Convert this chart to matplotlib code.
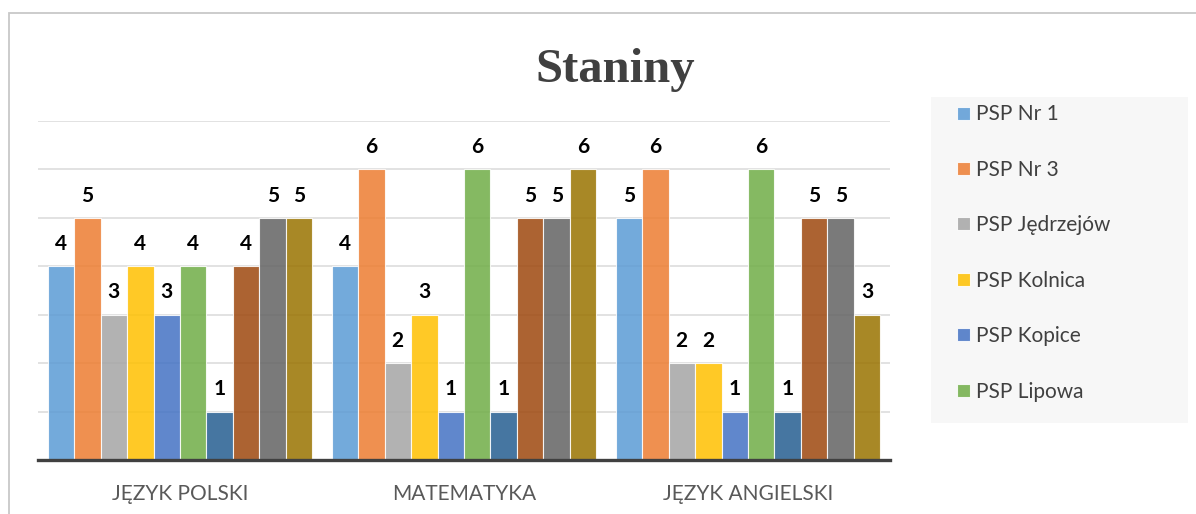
import numpy as np
import matplotlib
matplotlib.use("Agg")
import matplotlib.pyplot as plt
from matplotlib.patches import Rectangle

categories = ["JĘZYK POLSKI", "MATEMATYKA", "JĘZYK ANGIELSKI"]
# only the first six series are named in the (cut off) legend
series_names = ["PSP Nr 1", "PSP Nr 3", "PSP Jędrzejów", "PSP Kolnica",
                "PSP Kopice", "PSP Lipowa", None, None, None, None]
series_colors = ["#5B9BD5", "#ED7D31", "#A5A5A5", "#FFC000", "#4472C4",
                 "#70AD47", "#255E91", "#9E480E", "#636363", "#997300"]
values = [
    [4, 4, 5],
    [5, 6, 6],
    [3, 2, 2],
    [4, 3, 2],
    [3, 1, 1],
    [4, 6, 6],
    [1, 1, 1],
    [4, 5, 5],
    [5, 5, 5],
    [5, 6, 3],
]

W, H = 1196, 514
fig = plt.figure(figsize=(W / 100, H / 100), dpi=100)
fig.patch.set_facecolor("white")

# chart border (continues past right/bottom of the picture)
fig.add_artist(Rectangle((9 / W, -0.1), 1.2, (H - 13) / H + 0.1,
                         transform=fig.transFigure, fill=False,
                         edgecolor="#C8C8C8", linewidth=1.3))

ax = fig.add_axes([38 / W, (H - 460) / H, (890 - 38) / W, (460 - 121) / H])
x = np.arange(len(categories))
n = len(values)
bar_w = 0.933 / n

handles = []
for i, (vals, col) in enumerate(zip(values, series_colors)):
    pos = x - 0.933 / 2 + bar_w * (i + 0.5)
    bars = ax.bar(pos, vals, bar_w, color=col, alpha=0.85,
                  edgecolor="white", linewidth=0.8, zorder=2)
    handles.append(bars)
    for p, v in zip(pos, vals):
        ax.annotate(str(v), (p, v), xytext=(0, 16), textcoords="offset points",
                    ha="center", va="center", fontsize=15, fontweight="bold",
                    family="Lato", color="black")

ax.set_xlim(-0.5, 2.5)
ax.set_ylim(0, 7)
ax.set_yticks(range(1, 8))
ax.yaxis.grid(True, color="#E2E2E2", linewidth=1.4, zorder=0)
ax.set_axisbelow(True)
ax.tick_params(left=False, labelleft=False, bottom=False, pad=14)
ax.set_xticks(x)
ax.set_xticklabels(categories, fontsize=15, family="Lato", color="#595959")
for s in ["top", "right", "left"]:
    ax.spines[s].set_visible(False)
ax.spines["bottom"].set_color("#404040")
ax.spines["bottom"].set_linewidth(2.4)
ax.spines["bottom"].set_zorder(3)

fig.text(615 / W, (H - 82) / H, "Staniny", ha="center", va="baseline",
         fontsize=35, fontweight="bold", family="Liberation Serif", color="#404040")

# legend background panel
fig.add_artist(Rectangle((931 / W, (H - 423) / H), (1188 - 931) / W, (423 - 97) / H,
                         transform=fig.transFigure, facecolor="#F7F7F7",
                         edgecolor="none", zorder=0))
leg = fig.legend(handles[:6], series_names[:6], loc="upper left",
                 bbox_to_anchor=(947 / W, (H - 94) / H), frameon=False,
                 prop={"family": "Lato", "size": 15}, labelcolor="#404040",
                 handlelength=0.58, handleheight=0.58, handletextpad=0.3,
                 labelspacing=1.7, borderpad=0)

fig.savefig("out.png", dpi=100)
